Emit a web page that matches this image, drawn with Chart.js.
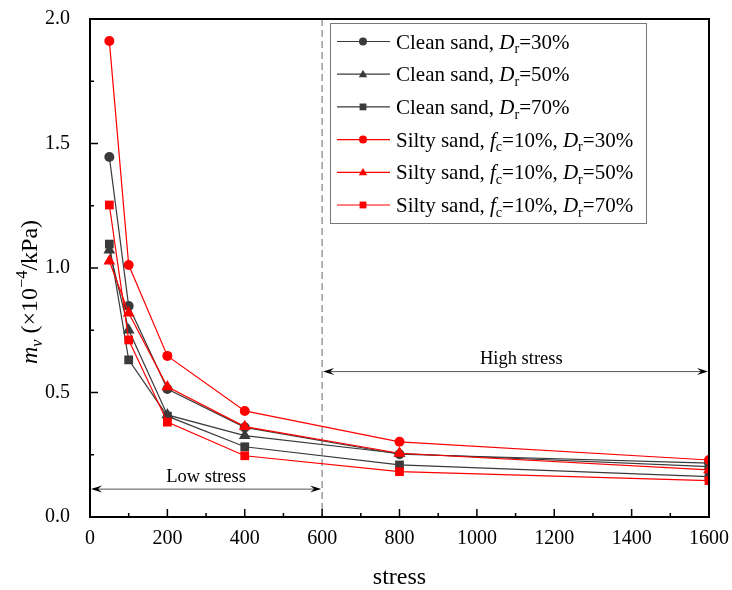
<!DOCTYPE html>
<html lang="en">
<head>
    <meta charset="UTF-8">
    <title>mv vs stress</title>
    <script src="https://cdn.jsdelivr.net/npm/chart.js"></script>
    <style>
        body { margin: 0; background: #fff; }
        canvas { display: block; }
    </style>
</head>
<body>
    <canvas id="chart" width="732" height="590"></canvas>

    <script>
        // stress levels (kPa) and mv values (x10^-4 /kPa)
        const stress = [50, 100, 200, 400, 800, 1600];

        const clean30 = [1.446, 0.847, 0.514, 0.360, 0.252, 0.216];
        const clean50 = [1.072, 0.751, 0.410, 0.327, 0.255, 0.202];
        const clean70 = [1.096, 0.631, 0.405, 0.282, 0.209, 0.162];
        const silty30 = [1.912, 1.012, 0.647, 0.426, 0.302, 0.229];
        const silty50 = [1.028, 0.819, 0.523, 0.363, 0.256, 0.189];
        const silty70 = [1.253, 0.711, 0.381, 0.246, 0.182, 0.146];

        const seriesLabels = [
            'Clean sand, D_r=30%',
            'Clean sand, D_r=50%',
            'Clean sand, D_r=70%',
            'Silty sand, f_c=10%, D_r=30%',
            'Silty sand, f_c=10%, D_r=50%',
            'Silty sand, f_c=10%, D_r=70%'
        ];

        const xTicks = [0, 200, 400, 600, 800, 1000, 1200, 1400, 1600];
        const yTicks = [0.0, 0.5, 1.0, 1.5, 2.0];

        // annotation ranges
        const lowRange = [0, 600];
        const highRange = [600, 1600];
        const lowArrowY = 0.112, highArrowY = 0.584;
        const boundary = 600;

        const FONT = "'Liberation Serif', 'Times New Roman', serif";
        const GREY = '#3a3a3a';
        const RED = '#ff0000';

        function toPoints(ys) {
            return stress.map((x, i) => ({ x: x, y: ys[i] }));
        }

        // "D_r" -> italic D + subscript r, "^{...}" -> superscript
        function parseLabel(s, italicSub) {
            const segs = [];
            const re = /([A-Za-z])_([a-z])|\^\{([^}]*)\}/g;
            let last = 0, m;
            while ((m = re.exec(s)) !== null) {
                if (m.index > last) segs.push({ t: s.slice(last, m.index) });
                if (m[1]) {
                    segs.push({ t: m[1], italic: true });
                    segs.push({ t: m[2], sub: true, italic: !!italicSub });
                } else {
                    segs.push({ t: m[3], sup: true });
                }
                last = re.lastIndex;
            }
            if (last < s.length) segs.push({ t: s.slice(last) });
            return segs;
        }

        function segFont(seg, size) {
            const sz = (seg.sub || seg.sup) ? size * 0.68 : size;
            return (seg.italic ? 'italic ' : '') + sz + 'px ' + FONT;
        }

        function richWidth(ctx, segs, size) {
            let w = 0;
            segs.forEach(seg => { ctx.font = segFont(seg, size); w += ctx.measureText(seg.t).width; });
            return w;
        }

        // draws on alphabetic baseline starting at x
        function drawRich(ctx, segs, x, baseline, size) {
            ctx.textBaseline = 'alphabetic';
            ctx.textAlign = 'left';
            segs.forEach(seg => {
                ctx.font = segFont(seg, size);
                let yy = baseline;
                if (seg.sub) yy += size * 0.22;
                if (seg.sup) yy -= size * 0.4;
                ctx.fillText(seg.t, x, yy);
                x += ctx.measureText(seg.t).width;
            });
        }

        function drawMarker(ctx, style, x, y, r) {
            ctx.beginPath();
            if (style === 'circle') {
                ctx.arc(x, y, r, 0, Math.PI * 2);
            } else if (style === 'triangle') {
                ctx.moveTo(x, y - r * 1.1);
                ctx.lineTo(x + r * 1.05, y + r * 0.75);
                ctx.lineTo(x - r * 1.05, y + r * 0.75);
                ctx.closePath();
            } else {
                ctx.rect(x - r * 0.85, y - r * 0.85, r * 1.7, r * 1.7);
            }
            ctx.fill();
        }

        function arrowHead(ctx, x, y, dir) {
            // dir: +1 points right, -1 points left
            ctx.beginPath();
            ctx.moveTo(x, y);
            ctx.lineTo(x - dir * 11, y - 3.5);
            ctx.lineTo(x - dir * 7, y);
            ctx.lineTo(x - dir * 11, y + 3.5);
            ctx.closePath();
            ctx.fill();
        }

        const styles = ['circle', 'triangle', 'rect', 'circle', 'triangle', 'rect'];
        const colors = [GREY, GREY, GREY, RED, RED, RED];
        const values = [clean30, clean50, clean70, silty30, silty50, silty70];

        const datasets = values.map((ys, i) => ({
            label: seriesLabels[i],
            data: toPoints(ys),
            borderColor: colors[i],
            backgroundColor: colors[i],
            borderWidth: 1.2,
            pointStyle: styles[i],
            pointRadius: styles[i] === 'circle' ? 5 : (styles[i] === 'triangle' ? 6.8 : 6.2),
            pointBorderWidth: 0,
            tension: 0,
            order: i < 3 ? 1 : 0
        }));

        const decor = {
            id: 'decor',
            beforeDatasetsDraw(chart) {
                const ctx = chart.ctx;
                const xs = chart.scales.x, ys = chart.scales.y;
                const a = chart.chartArea;
                ctx.save();
                // dashed boundary
                ctx.strokeStyle = '#999';
                ctx.lineWidth = 1.5;
                ctx.setLineDash([7, 4]);
                const bx = xs.getPixelForValue(boundary);
                ctx.beginPath();
                ctx.moveTo(bx, a.top);
                ctx.lineTo(bx, a.bottom);
                ctx.stroke();
                ctx.setLineDash([]);

                // low / high stress arrows
                ctx.strokeStyle = '#555';
                ctx.lineWidth = 1;
                [[lowRange, lowArrowY, 'Low stress', 300, 0.16],
                 [highRange, highArrowY, 'High stress', 1115, 0.635]].forEach(r => {
                    const x1 = xs.getPixelForValue(r[0][0]);
                    const x2 = xs.getPixelForValue(r[0][1]);
                    const y = ys.getPixelForValue(r[1]);
                    ctx.beginPath();
                    ctx.moveTo(x1 + 3, y);
                    ctx.lineTo(x2 - 3, y);
                    ctx.stroke();
                    ctx.fillStyle = '#000';
                    arrowHead(ctx, x1 + 1, y, -1);
                    arrowHead(ctx, x2 - 1, y, 1);
                    ctx.font = '18.5px ' + FONT;
                    ctx.textAlign = 'center';
                    ctx.textBaseline = 'middle';
                    ctx.fillText(r[2], xs.getPixelForValue(r[3]), ys.getPixelForValue(r[4]));
                });
                ctx.restore();
            },
            afterDraw(chart) {
                const ctx = chart.ctx;
                const xs = chart.scales.x, ys = chart.scales.y;
                const a = chart.chartArea;
                ctx.save();

                // frame
                ctx.strokeStyle = '#000';
                ctx.lineWidth = 2;
                ctx.strokeRect(a.left, a.top, a.right - a.left, a.bottom - a.top);

                // inward ticks
                ctx.lineWidth = 1.5;
                ctx.beginPath();
                for (let v = 0; v <= 1600; v += 100) {
                    const px = xs.getPixelForValue(v);
                    const len = v % 200 === 0 ? 8 : 4;
                    ctx.moveTo(px, a.bottom);
                    ctx.lineTo(px, a.bottom - len);
                }
                for (let v = 0; v <= 2.0001; v += 0.25) {
                    const py = ys.getPixelForValue(v);
                    const len = Math.abs(v * 2 - Math.round(v * 2)) < 1e-6 ? 8 : 4;
                    ctx.moveTo(a.left, py);
                    ctx.lineTo(a.left + len, py);
                }
                ctx.stroke();

                // legend
                const lx = 330, ly = 23, lw = 316, lh = 200, rowH = 32.7;
                ctx.fillStyle = '#fff';
                ctx.fillRect(lx, ly, lw, lh);
                ctx.strokeStyle = '#777';
                ctx.lineWidth = 1;
                ctx.strokeRect(lx + 0.5, ly + 0.5, lw, lh);
                seriesLabels.forEach((lab, i) => {
                    const cy = ly + 18.5 + i * rowH;
                    ctx.strokeStyle = colors[i];
                    ctx.fillStyle = colors[i];
                    ctx.lineWidth = 1.2;
                    ctx.beginPath();
                    ctx.moveTo(337, cy);
                    ctx.lineTo(390, cy);
                    ctx.stroke();
                    drawMarker(ctx, styles[i], 363, cy, 4);
                    ctx.fillStyle = '#000';
                    drawRich(ctx, parseLabel(lab), 396, cy + 7, 21);
                });

                // axis titles
                ctx.fillStyle = '#000';
                const yt = parseLabel('m_v (×10^{−4}/kPa)', true);
                ctx.save();
                ctx.translate(37, 292);
                ctx.rotate(-Math.PI / 2);
                const w = richWidth(ctx, yt, 24);
                drawRich(ctx, yt, -w / 2, 0, 24);
                ctx.restore();

                ctx.font = '24px ' + FONT;
                ctx.textAlign = 'center';
                ctx.textBaseline = 'middle';
                ctx.fillText('stress', (a.left + a.right) / 2, 578);
                ctx.restore();
            }
        };

        new Chart(document.getElementById('chart'), {
            type: 'line',
            data: { datasets: datasets },
            options: {
                responsive: false,
                animation: false,
                devicePixelRatio: 1,
                layout: { padding: { top: 19, right: 23, left: 0, bottom: 0 } },
                plugins: { legend: { display: false }, tooltip: { enabled: false } },
                scales: {
                    x: {
                        type: 'linear',
                        min: 0,
                        max: 1600,
                        afterFit: s => { s.height = 73; s.paddingLeft = 0; s.paddingRight = 0; },
                        afterBuildTicks: s => { s.ticks = xTicks.map(v => ({ value: v })); },
                        grid: { display: false },
                        border: { display: false },
                        ticks: {
                            color: '#000', padding: 4, maxRotation: 0,
                            font: { family: FONT, size: 20, lineHeight: 1 },
                            callback: v => String(v)
                        }
                    },
                    y: {
                        min: 0,
                        max: 2,
                        afterFit: s => { s.width = 90; s.paddingTop = 0; s.paddingBottom = 0; },
                        afterBuildTicks: s => { s.ticks = yTicks.map(v => ({ value: v })); },
                        grid: { display: false },
                        border: { display: false },
                        ticks: {
                            color: '#000', padding: 12,
                            font: { family: FONT, size: 20, lineHeight: 1 },
                            callback: v => v.toFixed(1)
                        }
                    }
                }
            },
            plugins: [decor]
        });
    </script>
</body>
</html>
